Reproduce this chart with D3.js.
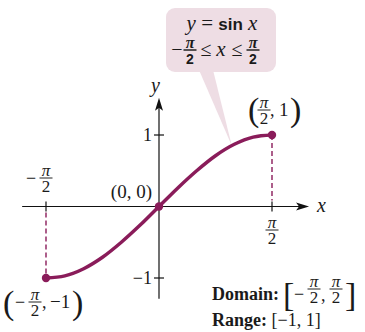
<!DOCTYPE html>
<html>
<head>
<meta charset="utf-8">
<script src="https://cdn.jsdelivr.net/npm/d3@7"></script>
<style>
  body { margin: 0; background: white; }
  text { font-family: "Liberation Serif", serif; fill: #1a1a1a; }
</style>
</head>
<body>
<div id="container"></div>
<script>
let w = 365;
let h = 332;

// angle in degrees, value of sin
let xDeg = [-90, -75, -60, -45, -30, -15, 0, 15, 30, 45, 60, 75, 90];
let yVals = [-1, -0.97, -0.87, -0.71, -0.5, -0.26, 0, 0.26, 0.5, 0.71, 0.87, 0.97, 1];

let xTicks = [-90, 90];
let yTicks = [1, -1];
let yTickLabels = ["1", "\u22121"];

// the three marked points
let pointsX = [-90, 0, 90];
let pointsY = [-1, 0, 1];

let curveColor = "#8a1c5a";

let viz = d3.select("#container")
  .append("svg")
    .attr("width", w)
    .attr("height", h)
    .style("background-color", "white");

let xScale = d3.scaleLinear().domain([-90, 90]).range([46, 272]);
let yScale = d3.scaleLinear().domain([-1, 1]).range([278, 135]);

let x0 = xScale(0);
let y0 = yScale(0);

// callout box behind everything
let callout = viz.append("g");
callout.append("path")
  .attr("d", "M199,70 L213,70 L" + xScale(58) + "," + yScale(0.85) + " Z")
  .attr("fill", "#eedde4");
callout.append("rect")
  .attr("x", 166).attr("y", 8)
  .attr("width", 110).attr("height", 64)
  .attr("rx", 9)
  .attr("fill", "#eedde4");

// axes
let axisColor = "#111";
viz.append("line")
  .attr("x1", xScale(-109)).attr("x2", xScale(114))
  .attr("y1", y0).attr("y2", y0)
  .attr("stroke", axisColor).attr("stroke-width", 1.2);
viz.append("line")
  .attr("x1", x0).attr("x2", x0)
  .attr("y1", yScale(-1.29)).attr("y2", yScale(1.45))
  .attr("stroke", axisColor).attr("stroke-width", 1.2);

// arrow heads
let xe = xScale(119.5);
viz.append("path")
  .attr("d", "M" + xe + "," + y0 + " L" + (xe - 13) + "," + (y0 - 4) + " L" + (xe - 10) + "," + y0 + " L" + (xe - 13) + "," + (y0 + 4) + " Z")
  .attr("fill", axisColor);
let ye = yScale(1.52);
viz.append("path")
  .attr("d", "M" + x0 + "," + ye + " L" + (x0 - 4) + "," + (ye + 13) + " L" + x0 + "," + (ye + 10) + " L" + (x0 + 4) + "," + (ye + 13) + " Z")
  .attr("fill", axisColor);

viz.append("text").attr("x", 317).attr("y", y0 + 5)
  .style("font-style", "italic").style("font-size", "20px").text("x");
viz.append("text").attr("x", 151).attr("y", 92)
  .style("font-style", "italic").style("font-size", "20px").text("y");

// ticks
viz.selectAll(".xtick").data(xTicks).enter().append("line")
  .attr("x1", d => xScale(d)).attr("x2", d => xScale(d))
  .attr("y1", y0 - 5).attr("y2", y0 + 5)
  .attr("stroke", axisColor).attr("stroke-width", 1.2);
viz.selectAll(".ytick").data(yTicks).enter().append("line")
  .attr("x1", x0 - 5).attr("x2", x0 + 5)
  .attr("y1", d => yScale(d)).attr("y2", d => yScale(d))
  .attr("stroke", axisColor).attr("stroke-width", 1.2);
viz.selectAll(".ylab").data(yTicks).enter().append("text")
  .attr("x", x0 - 7).attr("y", d => yScale(d) + 6)
  .attr("text-anchor", "end")
  .style("font-size", "18px")
  .text((d, i) => yTickLabels[i]);

// fraction pi / 2, numerator and denominator in one text element
function frac(parent, cx, barY, opt) {
  opt = opt || {};
  let g = parent.append("g");
  let t = g.append("text").attr("text-anchor", "middle");
  t.append("tspan").attr("x", cx).attr("y", barY - 2)
    .style("font-style", "italic")
    .style("font-weight", opt.bold ? "bold" : "normal")
    .style("font-size", (opt.size || 17) + "px")
    .text("\u03c0");
  t.append("tspan").attr("x", cx).attr("y", barY + 14)
    .style("font-size", (opt.size2 || 17) + "px")
    .style("font-family", opt.bold ? "'Liberation Sans', sans-serif" : null)
    .style("font-weight", opt.bold ? "bold" : "normal")
    .text("2");
  g.append("line")
    .attr("x1", cx - 6.5).attr("x2", cx + 6.5)
    .attr("y1", barY).attr("y2", barY)
    .attr("stroke", "#222").attr("stroke-width", opt.bold ? 1.5 : 1);
  return g;
}

function txt(x, y, s, size, anchor) {
  return viz.append("text").attr("x", x).attr("y", y)
    .attr("text-anchor", anchor || "start")
    .style("font-size", (size || 18) + "px")
    .text(s);
}

function paren(x, y, s) {
  return viz.append("text").attr("x", x).attr("y", y)
    .style("font-size", "34px").text(s);
}

// tick labels on the x axis
txt(31, 184, "\u2212", 18, "middle");
frac(viz, xScale(-90), 178);
frac(viz, xScale(90), 230);

// dashed guides
viz.append("line")
  .attr("x1", xScale(-90)).attr("x2", xScale(-90))
  .attr("y1", y0 + 6).attr("y2", yScale(-1))
  .attr("stroke", curveColor).attr("stroke-width", 1.4)
  .attr("stroke-dasharray", "5,3");
viz.append("line")
  .attr("x1", xScale(90)).attr("x2", xScale(90))
  .attr("y1", yScale(1)).attr("y2", y0 - 6)
  .attr("stroke", curveColor).attr("stroke-width", 1.4)
  .attr("stroke-dasharray", "5,3");

// the curve
let line = d3.line()
  .x((d, i) => xScale(xDeg[i]))
  .y(d => yScale(d))
  .curve(d3.curveCatmullRom);
viz.append("path")
  .datum(yVals)
  .attr("d", line)
  .attr("fill", "none")
  .attr("stroke", curveColor)
  .attr("stroke-width", 3.5);

viz.selectAll(".pt").data(pointsX).enter().append("circle")
  .attr("cx", d => xScale(d))
  .attr("cy", (d, i) => yScale(pointsY[i]))
  .attr("r", 4.2)
  .attr("fill", curveColor);

// point labels
txt(152, 198, "(0, 0)", 19, "end");

// (pi/2, 1)
paren(248, 121, "(");
frac(viz, 264, 110);
txt(270, 116, ",", 18);
txt(279, 116, "1", 19);
paren(290, 121, ")");

// (-pi/2, -1)
paren(3, 314, "(");
txt(15, 308, "\u2212", 18);
frac(viz, 35, 302);
txt(42, 308, ",", 18);
txt(50, 308, "\u22121", 19);
paren(72, 314, ")");

// callout text
let c1 = callout.append("text").attr("x", 222).attr("y", 30)
  .attr("text-anchor", "middle").style("font-size", "21px");
c1.append("tspan").style("font-style", "italic").text("y");
c1.append("tspan").text(" = ");
c1.append("tspan").style("font-family", "'Liberation Sans', sans-serif")
  .style("font-weight", "bold").style("font-size", "17px").text("sin");
c1.append("tspan").style("font-style", "italic").text(" x");

callout.append("text").attr("x", 177).attr("y", 56)
  .attr("text-anchor", "middle").style("font-size", "20px").text("\u2212");
frac(callout, 190, 50, {bold: true, size: 16, size2: 14});
callout.append("text").attr("x", 206).attr("y", 56)
  .attr("text-anchor", "middle").style("font-size", "20px").text("\u2264");
callout.append("text").attr("x", 221).attr("y", 56)
  .attr("text-anchor", "middle").style("font-size", "21px")
  .style("font-style", "italic").text("x");
callout.append("text").attr("x", 237).attr("y", 56)
  .attr("text-anchor", "middle").style("font-size", "20px").text("\u2264");
frac(callout, 253, 50, {bold: true, size: 16, size2: 14});

// domain / range
let dom = viz.append("text").attr("x", 212).attr("y", 300).style("font-size", "18px");
dom.append("tspan").style("font-weight", "bold").text("Domain:");
viz.append("text").attr("x", 283).attr("y", 306)
  .style("font-size", "34px").text("[");
txt(299, 300, "\u2212", 18, "middle");
frac(viz, 314, 289);
txt(321, 301, ",", 18);
frac(viz, 336, 289);
viz.append("text").attr("x", 345).attr("y", 306)
  .style("font-size", "34px").text("]");

let rng = viz.append("text").attr("x", 212).attr("y", 326).style("font-size", "18px");
rng.append("tspan").style("font-weight", "bold").text("Range:");
rng.append("tspan").text(" [\u22121, 1]");
</script>
</body>
</html>
